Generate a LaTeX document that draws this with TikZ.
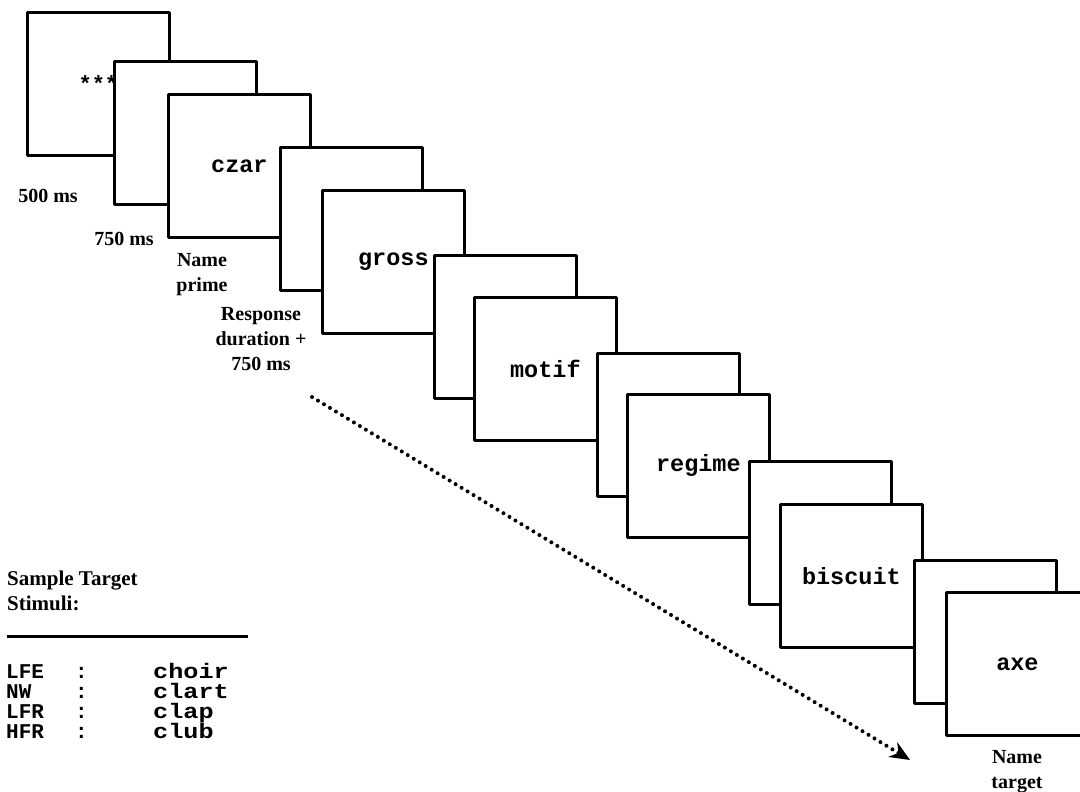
\documentclass[tikz,border=0pt]{standalone}
\usepackage{fontspec}
\setmainfont{Liberation Serif}
\setmonofont{Liberation Mono}
\newfontfamily\widemono[FakeStretch=1.2]{Liberation Mono}
\usetikzlibrary{arrows.meta,positioning}
\tikzset{
	screen/.style={draw, fill=white, line width=2.8pt, minimum width=142pt, minimum height=143pt, inner sep=0pt, anchor=north west, font=\fontsize{23.5}{28}\selectfont\ttfamily\bfseries},
	lbl/.style={font=\fontsize{20}{25}\selectfont\bfseries, align=center, inner sep=0pt},
	stim/.style={font=\fontsize{21}{20}\selectfont\ttfamily\bfseries, inner sep=0pt, anchor=base west}
}
\begin{document}
\begin{tikzpicture}[x=1pt, y=-1pt, line join=round, >={Stealth[length=20pt,width=17pt]}]
		\clip (0,0) rectangle (1080,792);
		\foreach \n/\x/\y/\w in {1/26/11/{\fontsize{22}{22}\selectfont***}, 2/113/60/, 3/167/93/czar, 4/279/146/, 5/321/189/gross, 6/433/254/, 7/473/296/motif, 8/596/352/, 9/626/393/regime, 10/748/460/, 11/779/503/biscuit, 12/913/559/, 13/945/591/axe}
			\node[screen] (s\n) at (\x,\y) {\w};
		\node[lbl, anchor=base] (t500) at (48,202) {500 ms};
		\node[lbl, anchor=base] (t750) at (124,245) {750 ms};
		\node[lbl, anchor=north] (tprime) at (202,253) {Name\\prime};
		\node[lbl, anchor=north] (tresp) at (261,307) {Response\\duration +\\750 ms};
		\node[lbl, anchor=north] (ttarget) at (1017,750) {Name\\target};
		\coordinate (tstart) at (312,397); \coordinate (tend) at (910,760);
		\draw[line width=4pt, line cap=round, dash pattern=on 0pt off 7pt, ->] (tstart) -- (tend);
		\node[lbl, align=left, anchor=north west, font=\fontsize{21}{25}\selectfont\bfseries] (sample) at (7,571) {Sample Target\\Stimuli:};
		\coordinate (rl) at (7,636); \coordinate (rr) at (248,636);
		\draw[line width=3pt] (rl) -- (rr);
		\foreach \k/\v [count=\i] in {LFE/choir, NW/clart, LFR/clap, HFR/club} {
			\node[stim] (k\i) at (6,658+20*\i) {\k};
			\node[stim] (c\i) at (75,658+20*\i) {:};
			\node[stim, font=\fontsize{21}{20}\selectfont\widemono\bfseries] (v\i) at (153,658+20*\i) {\v};
		}
	\end{tikzpicture}
\end{document}
